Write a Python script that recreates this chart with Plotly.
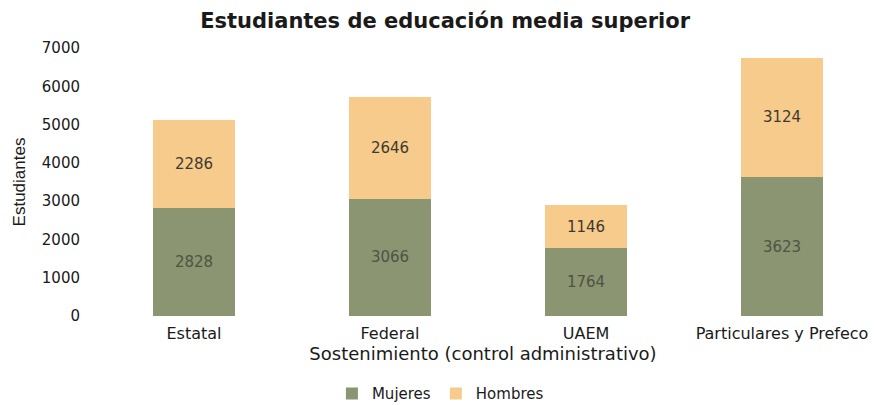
import plotly.graph_objects as go

# Data
categorias = ['Estatal', 'Federal', 'UAEM', 'Particulares y Prefeco']
mujeres = [2828, 3066, 1764, 3623]
hombres = [2286, 2646, 1146, 3124]

verde = '#8b9571'
naranja = '#f6cb8c'
fuente = 'DejaVu Sans, Liberation Sans, Arial, sans-serif'
tinta = '#1a1a1a'

fig = go.Figure()

fig.add_trace(go.Bar(
    x=categorias, y=mujeres, name='Mujeres',
    marker=dict(color=verde, line=dict(width=0)),
    text=mujeres, textposition='inside', insidetextanchor='middle',
    textangle=0, textfont=dict(family=fuente, size=15, color='#4f5344'),
    width=0.42,
))
fig.add_trace(go.Bar(
    x=categorias, y=hombres, name='Hombres',
    marker=dict(color=naranja, line=dict(width=0)),
    text=hombres, textposition='inside', insidetextanchor='middle',
    textangle=0, textfont=dict(family=fuente, size=15, color='#3f3a2e'),
    width=0.42,
))

# the page body adds an 8px offset, so margins are shifted to compensate
fig.update_layout(
    barmode='stack',
    width=876, height=405,
    margin=dict(l=88, r=14, t=40, b=97, autoexpand=False),
    paper_bgcolor='white', plot_bgcolor='white',
    font=dict(family=fuente, size=14, color=tinta),
    title=dict(
        text='<b>Estudiantes de educación media superior</b>',
        x=0.499, xanchor='center', yref='container', y=0.970, yanchor='middle',
        font=dict(family=fuente, size=21, color=tinta),
    ),
    xaxis=dict(
        range=[-0.5, 3.449], showgrid=False, showline=False, ticks='',
        automargin=False, ticklabelstandoff=6,
        tickfont=dict(family=fuente, size=16, color=tinta),
        title=dict(text='Sostenimiento (control administrativo)',
                   font=dict(family=fuente, size=18, color=tinta),
                   standoff=4),
    ),
    yaxis=dict(
        range=[0, 7000], dtick=1000, showgrid=False, showline=False,
        zeroline=False, ticks='', ticklabelstandoff=15, automargin=False,
        tickfont=dict(family=fuente, size=15, color=tinta),
        title=dict(text='Estudiantes',
                   font=dict(family='Liberation Sans Narrow, Liberation Sans, Arial, sans-serif',
                             size=17, color=tinta),
                   standoff=11),
    ),
    legend=dict(
        orientation='h', x=0.445, xanchor='center', y=-0.29, yanchor='middle',
        font=dict(family=fuente, size=15, color=tinta),
        itemwidth=30, traceorder='normal',
    ),
)

fig.write_html("out.html")
